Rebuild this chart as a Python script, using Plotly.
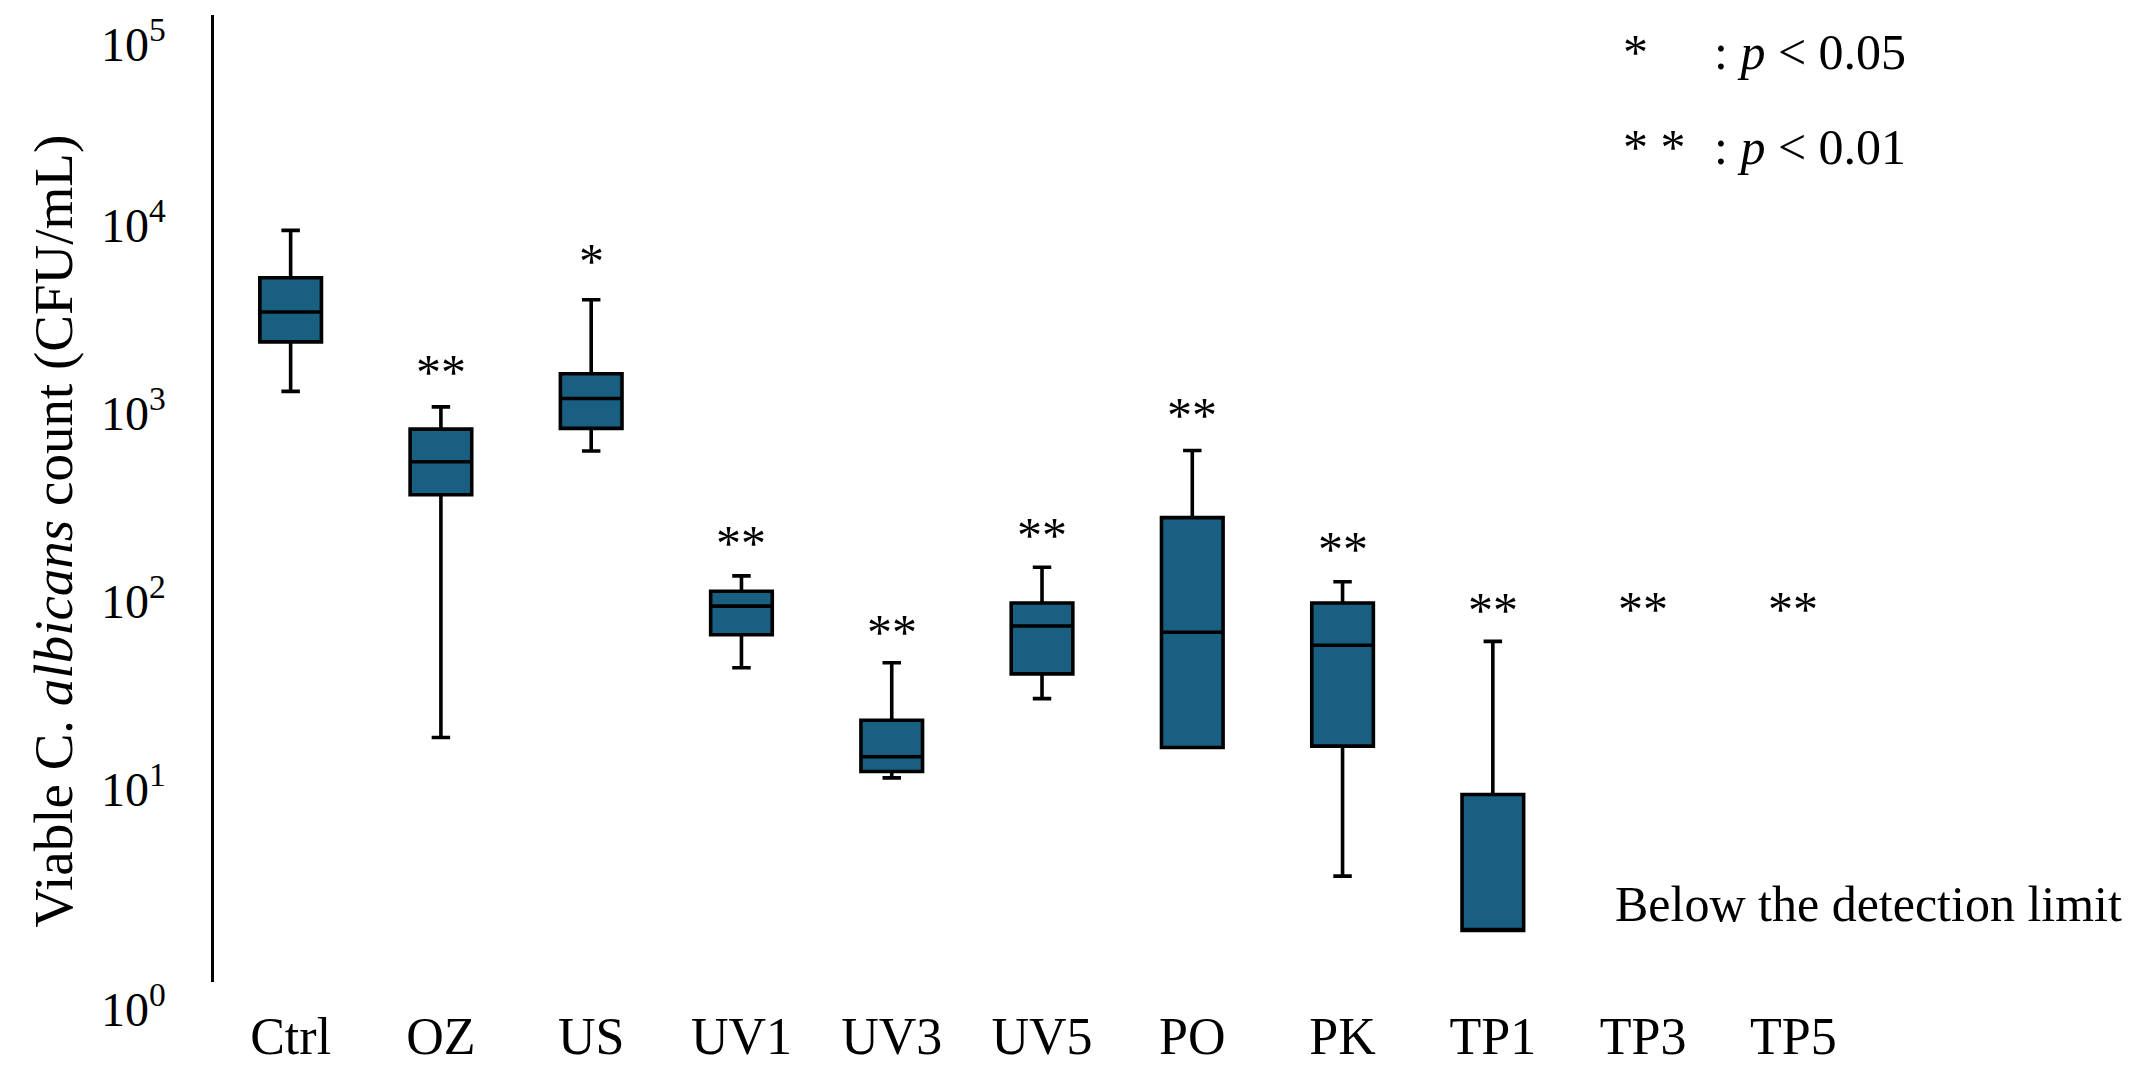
import math
import plotly.graph_objects as go

categories = ["Ctrl", "OZ", "US", "UV1", "UV3", "UV5", "PO", "PK", "TP1", "TP3", "TP5"]
# box statistics (CFU/mL); TP3 and TP5 below detection limit (no box)
upper = [10000, 1150, 4270, 145, 50, 161, 674, 135, 65, None, None]
q3 = [5590, 875, 1725, 120, 24.7, 104, 296, 104, 9.95, None, None]
median = [3680, 587, 1273, 100, 15.8, 78.5, 72.6, 62, 1.88, None, None]
q1 = [2550, 392, 883, 70.5, 13.2, 43.6, 17.7, 18, 1.88, None, None]
lower = [1390, 20, 670, 47, 12.2, 32.2, 17.7, 3.66, 1.88, None, None]
significance = ["", "**", "*", "**", "**", "**", "**", "**", "**", "**", "**"]
sig_height = [None, 2000, 7800, 245, 82, 272, 1175, 229, 108, 109, 109]
y_tick_exponents = [0, 1, 2, 3, 4, 5]

Y_TOP = 5.146  # log10 of the top of the y axis
FILL = "#185f82"
FONT = "Liberation Serif"

fig = go.Figure()
for i, c in enumerate(categories):
    if q3[i] is None:
        continue
    fig.add_trace(go.Box(
        x=[c], q1=[q1[i]], median=[median[i]], q3=[q3[i]],
        lowerfence=[lower[i]], upperfence=[upper[i]],
        fillcolor=FILL, line=dict(color="black", width=3.6),
        width=0.41, whiskerwidth=0.3, boxpoints=False,
        showlegend=False, hoverinfo="skip",
    ))

for i, c in enumerate(categories):
    if significance[i]:
        fig.add_annotation(x=c, y=math.log10(sig_height[i]), yshift=-10,
                           text=significance[i], showarrow=False,
                           font=dict(family=FONT, size=50, color="black"),
                           xanchor="center", yanchor="middle")

# y tick labels (annotations placed on the decades of the log axis)
label_shift = {0: -24, 5: 1}
for k in y_tick_exponents:
    fig.add_annotation(xref="paper", yref="paper", x=0, xshift=-46, y=k / Y_TOP,
                       yshift=label_shift.get(k, 8),
                       text=f"10<sup>{k}</sup>", showarrow=False,
                       xanchor="right", yanchor="middle",
                       font=dict(family=FONT, size=48, color="black"))

# y axis title
fig.add_annotation(xref="paper", yref="paper", x=0, xshift=-161, y=0.466,
                   text="Viable C. <i>albicans</i> count (CFU/mL)", textangle=-90,
                   showarrow=False, xanchor="center", yanchor="middle",
                   font=dict(family=FONT, size=55, color="black"))

# legend of significance marks
for txt, xx, yy in [("*", 8.85, 4.95), (": <i>p</i> < 0.05", 9.46, 4.95),
                    ("* *", 8.85, 4.445), (": <i>p</i> < 0.01", 9.46, 4.445)]:
    fig.add_annotation(x=xx, y=yy, text=txt, showarrow=False, xanchor="left", yanchor="middle",
                       font=dict(family=FONT, size=50, color="black"))
fig.add_annotation(x=8.80, y=0.414, text="Below the detection limit", showarrow=False,
                   xanchor="left", yanchor="middle",
                   font=dict(family=FONT, size=50, color="black"))

fig.update_layout(
    width=2142, height=1084,
    margin=dict(l=206, r=20, t=7, b=110),
    paper_bgcolor="white", plot_bgcolor="white",
    font=dict(family=FONT, size=52, color="black"),
)
fig.update_xaxes(
    type="category", categoryorder="array", categoryarray=categories,
    range=[-0.51, 12.24], showline=False, showgrid=False, zeroline=False,
    ticks="", ticklabelstandoff=19, tickfont=dict(family=FONT, size=52),
)
fig.update_yaxes(
    type="log", range=[0, Y_TOP], showgrid=False, zeroline=False,
    showline=True, linecolor="black", linewidth=3, ticks="",
    showticklabels=False,
)

fig.write_html("out.html")
